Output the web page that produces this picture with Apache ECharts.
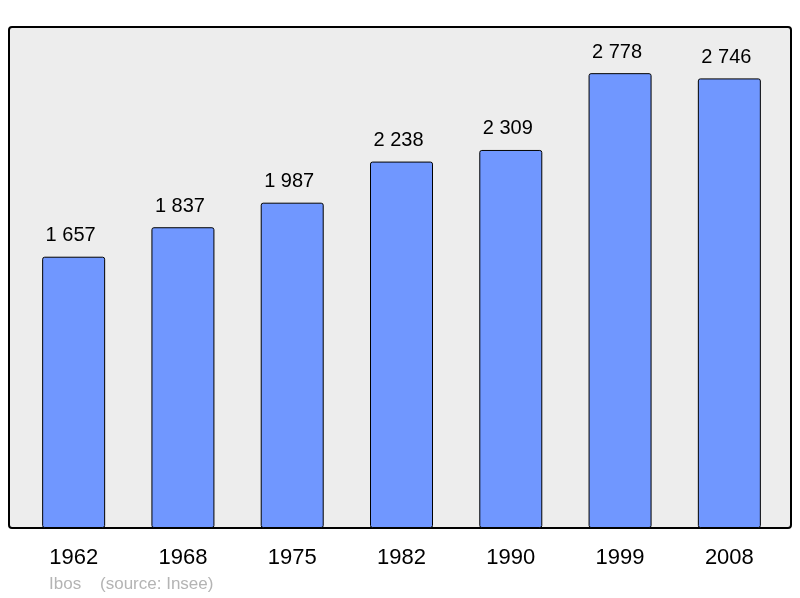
<!doctype html>
<html lang="fr">
<head>
    <meta charset="utf-8">
    <title>Ibos</title>
    <script src="https://cdn.jsdelivr.net/npm/echarts@6/dist/echarts.min.js"></script>
    <style>
        html, body { margin: 0; padding: 0; background: #fff; }
        #chart { width: 800px; height: 598px; }
    </style>
</head>
<body>
    <div id="chart"></div>
    <script type="text/javascript">
        var years = ['1962', '1968', '1975', '1982', '1990', '1999', '2008'];
        var population = [1657, 1837, 1987, 2238, 2309, 2778, 2746];
        var sourceText = 'Ibos    (source: Insee)';

        function fmt(v) {
            return String(v).replace(/\B(?=(\d{3})+(?!\d))/g, ' ');
        }

        var chart = echarts.init(document.getElementById('chart'));
        var option = {
            animation: false,
            textStyle: { fontFamily: 'Liberation Sans, Arial, sans-serif' },
            grid: { left: 19, right: 16, top: 27, bottom: 70 },
            graphic: [{
                type: 'rect',
                z: 0,
                shape: { x: 9, y: 27, width: 782, height: 501, r: 3 },
                style: { fill: '#ededed', stroke: '#000', lineWidth: 2 }
            }, {
                type: 'text',
                left: 49,
                top: 576,
                style: { text: sourceText, fill: '#b4b4b4', font: '17px Liberation Sans, Arial, sans-serif' }
            }],
            xAxis: {
                type: 'category',
                data: years,
                axisLine: { show: false },
                axisTick: { show: false },
                axisLabel: { color: '#000', fontSize: 22, margin: 19 }
            },
            yAxis: {
                type: 'value',
                min: 0,
                max: 3060,
                show: false
            },
            series: [{
                type: 'bar',
                data: population,
                barWidth: 63,
                z: 2,
                itemStyle: {
                    color: '#7097ff',
                    borderColor: '#000',
                    borderWidth: 1,
                    borderRadius: 2
                },
                label: {
                    show: true,
                    position: 'top',
                    distance: 11,
                    offset: [-3, 0],
                    color: '#000',
                    fontSize: 20,
                    formatter: function (p) { return fmt(p.value); }
                }
            }]
        };
        chart.setOption(option);
    </script>
</body>
</html>
